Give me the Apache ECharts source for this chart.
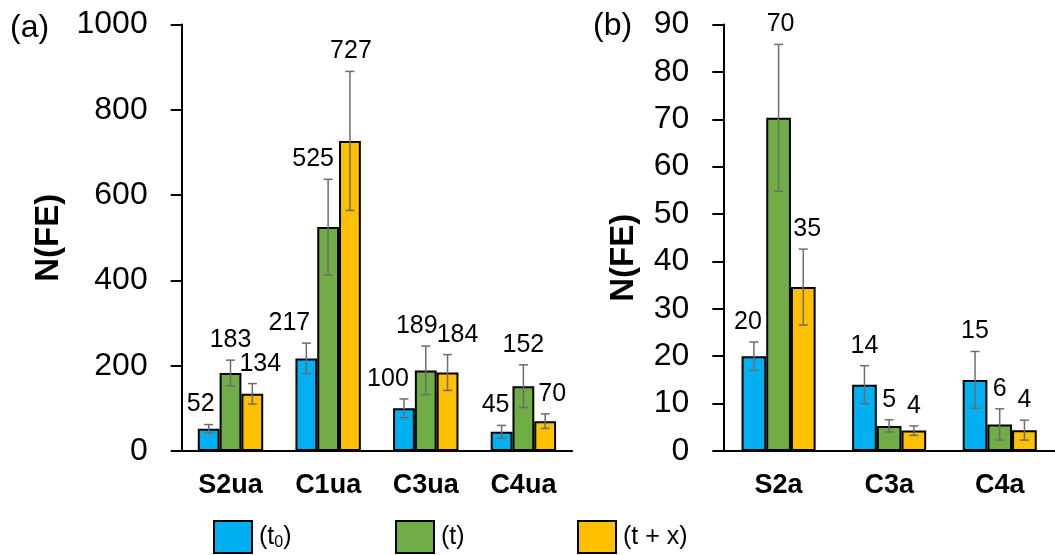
<!DOCTYPE html>
<html>
<head>
<meta charset="utf-8">
<script src="https://cdn.jsdelivr.net/npm/echarts@6/dist/echarts.min.js"></script>
<style>
html,body{margin:0;padding:0;background:#fff;}
#chart{width:1055px;height:555px;}
</style>
</head>
<body>
<div id="chart"></div>
<script>
// ---- Data ----
const seriesNames = ['(t0)', '(t)', '(t + x)'];

// Panel (a)
const categoriesA = ['S2ua', 'C1ua', 'C3ua', 'C4ua'];
const t0A = [52, 217, 100, 45];
const tA = [183, 525, 189, 152];
const txA = [134, 727, 184, 70];
const errT0A = [10, 36, 22, 15];
const errTA = [30, 112, 57, 50];
const errTxA = [24, 163, 42, 17];
const ticksA = { min: 0, max: 1000, interval: 200 };

// Panel (b)
const categoriesB = ['S2a', 'C3a', 'C4a'];
const t0B = [20, 14, 15];
const tB = [70.3, 5.3, 5.6];
const txB = [34.6, 4.3, 4.4];
const errT0B = [3, 4, 6];
const errTB = [15.5, 1.3, 3.3];
const errTxB = [8, 1, 2.1];
const ticksB = { min: 0, max: 90, interval: 10 };

// ---- Presentation (label nudges to avoid overlaps, px) ----
const nudgeA = [[-8, -17, -16, -6], [0, -15, -9, 0], [8, 1, 10, 7]];
const nudgeB = [[-6, 0, 0], [2, 0, 0], [4, 0, 0]];

const colors = ['#00B0F0', '#70AD47', '#FFC000'];
const FONT = '"Liberation Sans", Arial, sans-serif';
const GAP = 0.33;

function makeSeries(panel, values, errs, nudges) {
  const out = [];
  values.forEach((vals, s) => {
    out.push({
      type: 'bar',
      name: seriesNames[s],
      xAxisIndex: panel,
      yAxisIndex: panel,
      data: vals,
      barGap: '0%',
      barCategoryGap: (GAP * 100) + '%',
      itemStyle: { color: colors[s], borderColor: '#000', borderWidth: 2 },
      emphasis: { disabled: true },
      animation: false
    });
  });
  values.forEach((vals, s) => {
    out.push({
      type: 'custom',
      xAxisIndex: panel,
      yAxisIndex: panel,
      z: 10,
      silent: true,
      animation: false,
      data: vals.map((v, i) => [i, v, errs[s][i], nudges[s][i]]),
      renderItem: function (params, api) {
        const i = api.value(0), v = api.value(1), e = api.value(2), dx = api.value(3);
        const c = api.coord([i, v]);
        const catW = api.size([1, 0])[0];
        const bw = catW * (1 - GAP) / 3;
        const x = c[0] + (s - 1) * bw;
        const yTop = api.coord([i, v + e])[1];
        const yBot = api.coord([i, v - e])[1];
        const cap = 4.5;
        const ls = { stroke: '#6d6d6d', lineWidth: 1.5 };
        return {
          type: 'group',
          children: [
            { type: 'line', shape: { x1: x, y1: yTop, x2: x, y2: yBot }, style: ls },
            { type: 'line', shape: { x1: x - cap, y1: yTop, x2: x + cap, y2: yTop }, style: ls },
            { type: 'line', shape: { x1: x - cap, y1: yBot, x2: x + cap, y2: yBot }, style: ls },
            { type: 'text', x: x + dx, y: yTop - 20,
              style: { text: String(Math.round(v)), font: '25px ' + FONT, fill: '#000',
                       align: 'center', verticalAlign: 'middle' } }
          ]
        };
      }
    });
  });
  return out;
}

function yAxis(grid, t, nameGap, namePad) {
  return {
    type: 'value', gridIndex: grid, min: t.min, max: t.max, interval: t.interval,
    name: 'N(FE)', nameLocation: 'middle', nameGap: nameGap,
    nameTextStyle: { fontFamily: FONT, fontSize: 33, fontWeight: 'bold', color: '#000', padding: namePad },
    axisLine: { show: true, lineStyle: { color: '#000', width: 2 } },
    axisTick: { show: true, length: 11, lineStyle: { color: '#000', width: 2 } },
    axisLabel: { fontFamily: FONT, fontSize: 32, color: '#000', margin: 34,
                 formatter: function (v) { return String(v); } },
    splitLine: { show: false }
  };
}
function xAxis(grid, cats) {
  return {
    type: 'category', gridIndex: grid, data: cats,
    axisLine: { show: true, lineStyle: { color: '#000', width: 2 } },
    axisTick: { show: false },
    axisLabel: { fontFamily: FONT, fontSize: 27, fontWeight: 'bold', color: '#000', margin: 21 }
  };
}

function legend(name, left) {
  return {
    data: [{ name: name, icon: 'rect' }], left: left, top: 520, padding: 0,
    itemWidth: 38, itemHeight: 32, itemGap: 0,
    selectedMode: false,
    formatter: function (n) { return n === '(t0)' ? '(t{sub|0})' : n; },
    textStyle: { fontFamily: FONT, fontSize: 25, color: '#000', padding: [0, 0, 0, 2],
      rich: { sub: { fontFamily: FONT, fontSize: 16, color: '#000', padding: [12, 0, 0, 0] } } }
  };
}

const chart = echarts.init(document.getElementById('chart'));
chart.setOption({
  animation: false,
  backgroundColor: '#fff',
  grid: [
    { left: 181.7, top: 24.5, width: 390.5, height: 426.5 },
    { left: 723.3, top: 24.5, width: 341, height: 426.5 }
  ],
  xAxis: [xAxis(0, categoriesA), xAxis(1, categoriesB)],
  yAxis: [yAxis(0, ticksA, 116, [0, 0, 0, 0]), yAxis(1, ticksB, 83, [0, 40, 0, 0])],
  legend: [legend('(t0)', 213), legend('(t)', 395), legend('(t + x)', 577)],
  graphic: [
    { type: 'text', left: 10, top: 12, style: { text: '(a)', font: '32px ' + FONT, fill: '#000' } },
    { type: 'text', left: 593, top: 10, style: { text: '(b)', font: '32px ' + FONT, fill: '#000' } }
  ],
  series: [].concat(
    makeSeries(0, [t0A, tA, txA], [errT0A, errTA, errTxA], nudgeA),
    makeSeries(1, [t0B, tB, txB], [errT0B, errTB, errTxB], nudgeB)
  )
});
</script>
</body>
</html>
